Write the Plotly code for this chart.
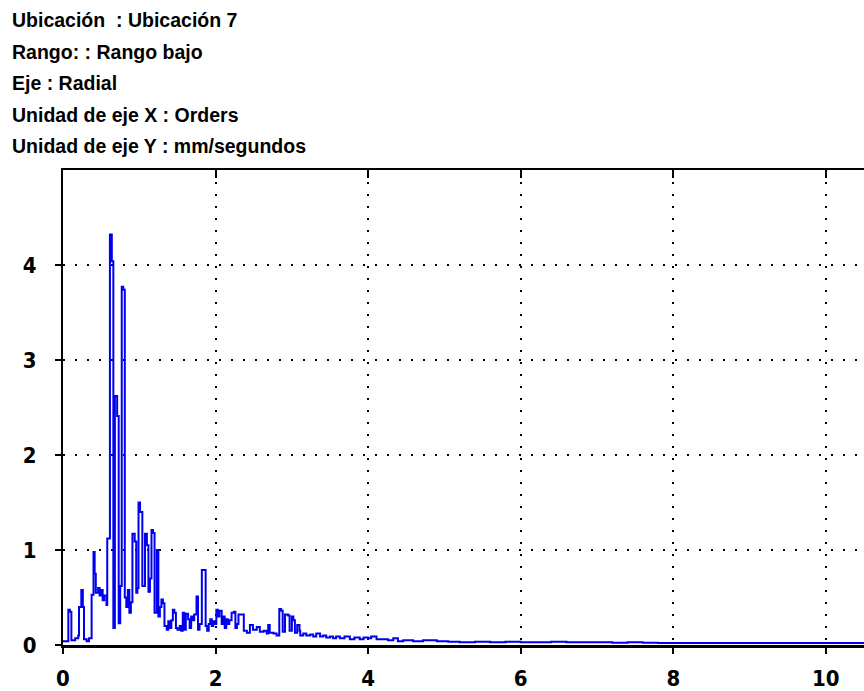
import plotly.graph_objects as go

# ---- data ----
orders = [
    0.00, 0.07, 0.09, 0.11, 0.16, 0.20, 0.21, 0.24, 0.26, 0.275, 0.31, 0.34,
    0.375, 0.40, 0.415, 0.43, 0.46, 0.48, 0.50, 0.52, 0.54, 0.57, 0.58, 0.615,
    0.64, 0.66, 0.68, 0.71, 0.73, 0.75, 0.77, 0.79, 0.81, 0.83, 0.85, 0.87,
    0.89, 0.91, 0.94, 0.96, 0.975, 0.99, 1.01, 1.04, 1.075, 1.10, 1.12, 1.14,
    1.16, 1.18, 1.20, 1.23, 1.25, 1.27, 1.29, 1.31, 1.33, 1.36, 1.38, 1.40,
    1.42, 1.44, 1.46, 1.48, 1.50, 1.53, 1.55, 1.57, 1.59, 1.61, 1.64, 1.66,
    1.68, 1.70, 1.72, 1.75, 1.77, 1.79, 1.82, 1.85, 1.87, 1.89, 1.91, 1.93,
    1.95, 1.97, 1.99, 2.01, 2.03, 2.05, 2.08, 2.10, 2.12, 2.14, 2.16, 2.18,
    2.21, 2.24, 2.26, 2.28, 2.30, 2.34, 2.37, 2.41, 2.45, 2.49, 2.54, 2.58,
    2.63, 2.67, 2.69, 2.71, 2.76, 2.80, 2.835, 2.86, 2.88, 2.91, 2.95, 2.97,
    3.00, 3.02, 3.04, 3.07, 3.10, 3.11, 3.15, 3.19, 3.24, 3.28, 3.32, 3.37,
    3.41, 3.45, 3.50, 3.54, 3.58, 3.63, 3.69, 3.76, 3.82, 3.89, 3.94, 4.00,
    4.04, 4.11, 4.20, 4.26, 4.33, 4.39, 4.46, 4.59, 4.72, 4.90, 5.05, 5.20,
    5.40, 5.60, 5.80, 6.00, 6.20, 6.40, 6.60, 6.80, 7.00, 7.20, 7.40, 7.60,
    7.80, 8.00, 8.25, 8.50, 8.75, 9.00, 9.25, 9.50, 9.75, 10.00, 10.25, 10.50,
]
amplitude = [
    0.04, 0.37, 0.35, 0.05, 0.07, 0.10, 0.40, 0.58, 0.40, 0.06, 0.04, 0.07,
    0.53, 0.98, 0.75, 0.55, 0.60, 0.52, 0.58, 0.47, 0.52, 0.42, 1.12, 4.32,
    4.04, 0.18, 2.62, 2.41, 0.23, 0.62, 3.77, 3.74, 0.50, 0.40, 0.58, 0.34,
    0.45, 1.17, 1.09, 0.55, 0.60, 1.50, 1.40, 0.62, 1.17, 1.05, 0.56, 0.70,
    1.21, 1.18, 0.34, 1.00, 0.30, 0.40, 0.48, 0.44, 0.20, 0.16, 0.25, 0.18,
    0.26, 0.37, 0.34, 0.18, 0.16, 0.20, 0.15, 0.34, 0.16, 0.33, 0.27, 0.18,
    0.30, 0.26, 0.32, 0.51, 0.16, 0.22, 0.79, 0.79, 0.20, 0.15, 0.22, 0.27,
    0.20, 0.25, 0.22, 0.37, 0.30, 0.36, 0.22, 0.30, 0.18, 0.27, 0.22, 0.26,
    0.34, 0.35, 0.18, 0.22, 0.32, 0.32, 0.15, 0.13, 0.21, 0.16, 0.19, 0.14,
    0.15, 0.12, 0.21, 0.13, 0.12, 0.10, 0.38, 0.36, 0.14, 0.32, 0.31, 0.15,
    0.30, 0.26, 0.13, 0.21, 0.15, 0.10, 0.12, 0.10, 0.11, 0.09, 0.12, 0.09,
    0.10, 0.08, 0.09, 0.07, 0.09, 0.07, 0.09, 0.06, 0.08, 0.06, 0.08, 0.07,
    0.09, 0.06, 0.06, 0.05, 0.07, 0.04, 0.05, 0.04, 0.05, 0.04, 0.035, 0.03,
    0.035, 0.03, 0.035, 0.03, 0.03, 0.035, 0.03, 0.03, 0.03, 0.025, 0.03, 0.025,
    0.02, 0.02, 0.02, 0.02, 0.02, 0.02, 0.02, 0.02, 0.02, 0.02, 0.02, 0.02,
]
x_ticks = [0, 2, 4, 6, 8, 10]
y_ticks = [0, 1, 2, 3, 4]
header_lines = [
    "Ubicación  : Ubicación 7",
    "Rango: : Rango bajo",
    "Eje : Radial",
    "Unidad de eje X : Orders",
    "Unidad de eje Y : mm/segundos",
]

W, H = 864, 691
ML, MR, MT, MB = 63, 0, 170, 42
PW, PH = W - ML - MR, H - MT - MB

fig = go.Figure()
fig.add_trace(go.Scatter(
    x=orders, y=amplitude, mode="lines",
    line=dict(color="#0000ee", width=2, shape="hv"),
    hoverinfo="skip", showlegend=False,
))
# empty trace so the top (inside-ticks) axis is drawn
fig.add_trace(go.Scatter(x=[], y=[], xaxis="x2", showlegend=False))

tick_font = dict(family="DejaVu Sans Condensed, Liberation Sans Narrow, Arial Narrow, sans-serif",
                 size=22, color="black", weight="bold")
grid_kw = dict(showgrid=True, gridcolor="black", griddash="2px,10px", gridwidth=2)

fig.update_layout(
    width=W, height=H,
    margin=dict(l=ML, r=MR, t=MT, b=MB, pad=0),
    paper_bgcolor="white", plot_bgcolor="white",
    xaxis=dict(range=[0, 10.5], tickvals=x_ticks, ticktext=[str(v) for v in x_ticks],
               ticks="outside", ticklen=6, tickwidth=2, tickcolor="black",
               showline=True, linecolor="black", linewidth=3,
               zeroline=False, tickfont=tick_font, ticklabelstandoff=6, **grid_kw),
    xaxis2=dict(range=[0, 10.5], overlaying="x", side="top", tickvals=x_ticks,
                ticks="inside", ticklen=8, tickwidth=2, tickcolor="black",
                showline=True, linecolor="black", linewidth=2,
                showticklabels=False, showgrid=False, zeroline=False),
    yaxis=dict(range=[0, 5], tickvals=y_ticks, ticktext=[str(v) for v in y_ticks],
               ticks="outside", ticklen=6, tickwidth=2, tickcolor="black",
               showline=True, linecolor="black", linewidth=2,
               zeroline=False, tickfont=tick_font, ticklabelstandoff=14, **grid_kw),
)

# header text lines (one annotation per line)
for i, line in enumerate(header_lines):
    cy = 19 + 31.7 * i
    fig.add_annotation(
        text=line, xref="paper", yref="paper",
        x=(10 - ML) / PW, y=(H - MB - cy) / PH,
        xanchor="left", yanchor="middle", showarrow=False,
        font=dict(family="Liberation Sans, Arial, sans-serif", size=19.5,
                  color="#000000", weight="bold"),
    )

fig.write_html("out.html")
